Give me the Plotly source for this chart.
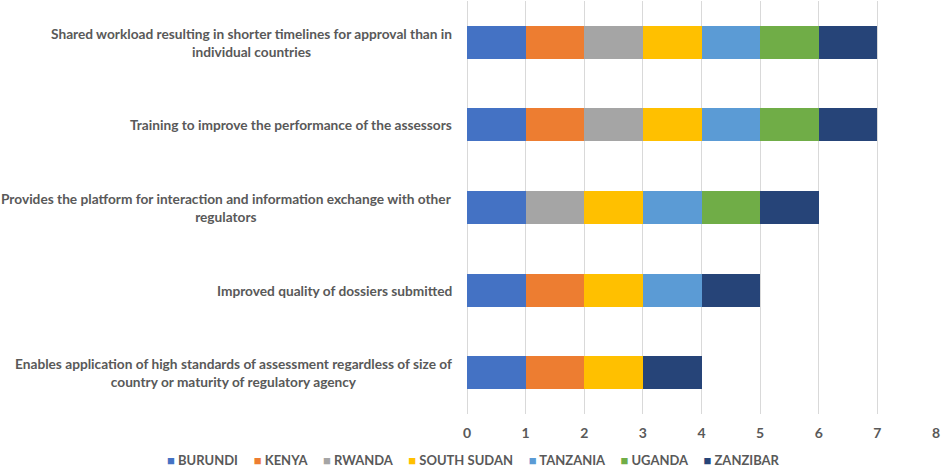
import plotly.graph_objects as go

categories = [
    "Enables application of high standards of assessment regardless of size of<br>country or maturity of regulatory agency",
    "Improved quality of dossiers submitted",
    "Provides the platform for interaction and information exchange with other<br>regulators",
    "Training to improve the performance of the assessors",
    "Shared workload resulting in shorter timelines for approval than in<br>individual countries",
]
countries = ["BURUNDI", "KENYA", "RWANDA", "SOUTH SUDAN", "TANZANIA", "UGANDA", "ZANZIBAR"]
colors = ["#4472C4", "#ED7D31", "#A5A5A5", "#FFC000", "#5B9BD5", "#70AD47", "#264478"]

burundi = [1, 1, 1, 1, 1]
kenya = [1, 1, 0, 1, 1]
rwanda = [0, 0, 1, 1, 1]
south_sudan = [1, 1, 1, 1, 1]
tanzania = [0, 1, 1, 1, 1]
uganda = [0, 0, 1, 1, 1]
zanzibar = [1, 1, 1, 1, 1]
series = [burundi, kenya, rwanda, south_sudan, tanzania, uganda, zanzibar]

x_ticks = [0, 1, 2, 3, 4, 5, 6, 7, 8]

FONT = "Lato"
TXT = "#595959"

fig = go.Figure()
for name, vals, col in zip(countries, series, colors):
    fig.add_trace(go.Bar(
        y=categories, x=vals, name=name, orientation="h",
        marker=dict(color=col, line=dict(width=0)),
        showlegend=False,
    ))

annotations = []
for cat in categories:
    annotations.append(dict(
        x=0, xref="x", y=cat, yref="y", text=cat, showarrow=False,
        xanchor="right", yanchor="middle", align="center", xshift=-13,
        font=dict(family=FONT, size=13.7, color=TXT, weight="bold"),
    ))

gap = "&nbsp;" * 5
legend_text = gap.join(
    f"<span style='color:{c}'>■</span> {n}" for n, c in zip(countries, colors)
)
annotations.append(dict(
    x=0.0128, xref="paper", y=-0.112, yref="paper", text=legend_text,
    showarrow=False, xanchor="center", yanchor="middle", borderpad=0,
    font=dict(family=FONT, size=13, color=TXT, weight="bold"),
))

fig.update_layout(
    barmode="stack",
    bargap=0.6,
    width=941, height=468,
    margin=dict(l=467, r=5, t=1, b=54),
    paper_bgcolor="white", plot_bgcolor="white",
    font=dict(family=FONT, size=13, color=TXT),
    annotations=annotations,
    xaxis=dict(
        range=[0, 8], tickvals=x_ticks, showgrid=True, gridcolor="#D9D9D9",
        gridwidth=1, zeroline=True, zerolinecolor="#D9D9D9", zerolinewidth=1,
        showline=False, ticks="", ticklabelstandoff=9,
        tickfont=dict(family=FONT, size=14, color=TXT, weight="bold"),
    ),
    yaxis=dict(
        categoryorder="array", categoryarray=categories,
        showticklabels=False, showgrid=False, zeroline=False, showline=False,
        ticks="",
    ),
)

fig.write_html(
    "out.html",
    config={"displayModeBar": False},
    post_script="document.body.style.margin='0';",
)
